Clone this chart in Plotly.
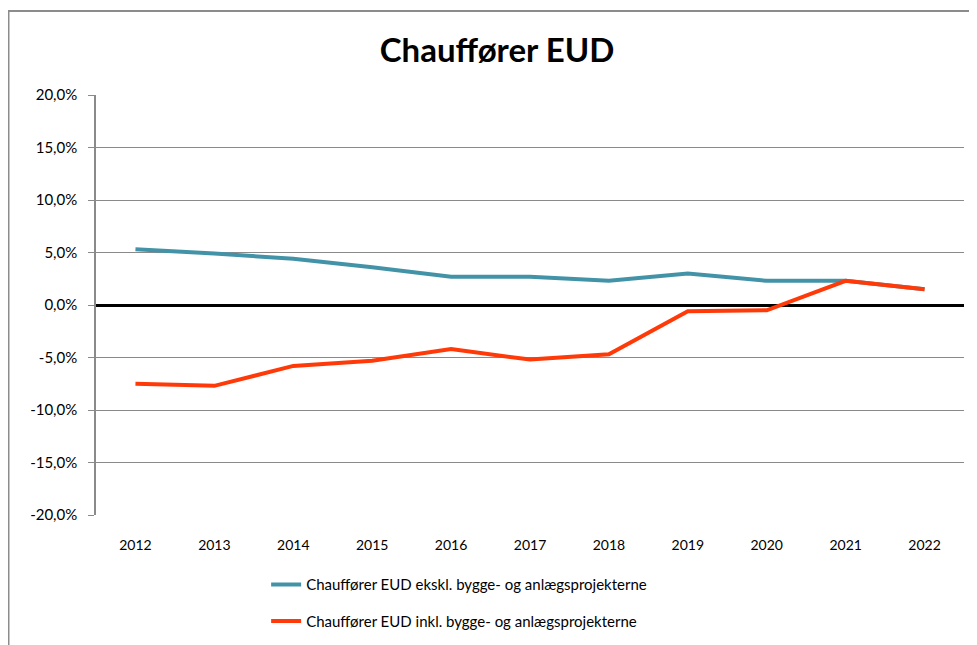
import plotly.graph_objects as go

years = ["2012", "2013", "2014", "2015", "2016", "2017", "2018", "2019", "2020", "2021", "2022"]
eksl = [5.3, 4.9, 4.4, 3.6, 2.7, 2.7, 2.3, 3.0, 2.3, 2.3, 1.5]
inkl = [-7.5, -7.7, -5.8, -5.3, -4.2, -5.2, -4.7, -0.6, -0.5, 2.3, 1.5]
name_eksl = "Chauffører EUD ekskl. bygge- og anlægsprojekterne"
name_inkl = "Chauffører EUD inkl. bygge- og anlægsprojekterne"
title = "Chauffører EUD"
y_ticks = [-20, -15, -10, -5, 0, 5, 10, 15, 20]
y_ticktext = ["-20,0%", "-15,0%", "-10,0%", "-5,0%", "0,0%", "5,0%", "10,0%", "15,0%", "20,0%"]

FONT = "Lato, 'Open Sans', sans-serif"

# page body has an 8px default margin; figure sized to fit the 977x645 window
W, H = 969, 637
L, T, PW, PH = 88, 87, 868, 420

fig = go.Figure()
fig.add_trace(go.Scatter(x=years, y=eksl, mode="lines", name=name_eksl,
                         line=dict(color="#4393A8", width=4), legendgroup="a"))
fig.add_trace(go.Scatter(x=years, y=inkl, mode="lines", name=name_inkl,
                         line=dict(color="#FF3A08", width=4), legendgroup="b"))

fig.update_layout(
    width=W, height=H,
    margin=dict(l=L, r=W - L - PW, t=T, b=H - T - PH, autoexpand=False),
    paper_bgcolor="white", plot_bgcolor="white",
    font=dict(family=FONT, size=14, color="#000000"),
    title=dict(text="<b>" + title + "</b>", x=489 / W, xanchor="center", y=1 - 42 / H, yanchor="middle",
               font=dict(family=FONT, size=33, color="#000000")),
    showlegend=True,
    legend=dict(x=0.196, y=-0.127, xanchor="left", yanchor="top", orientation="v",
                traceorder="grouped", tracegroupgap=14,
                font=dict(family=FONT, size=15, color="#000000"),
                bgcolor="rgba(0,0,0,0)"),
    xaxis=dict(type="category", range=[-0.5, 10.5], showgrid=False, zeroline=False, showline=False,
               ticks="", tickfont=dict(size=14), ticklabelstandoff=20, automargin=False),
    yaxis=dict(range=[-20, 20], tickvals=y_ticks, ticktext=y_ticktext,
               showgrid=True, gridcolor="#8a8a8a", gridwidth=1,
               zeroline=True, zerolinecolor="#000000", zerolinewidth=3,
               showline=True, linecolor="#8a8a8a", linewidth=1.5,
               ticks="outside", ticklen=6, tickcolor="#8a8a8a",
               ticklabelstandoff=8, tickfont=dict(size=15), automargin=False),
    shapes=[dict(type="rect", xref="paper", yref="paper",
                 x0=(0.5 - L) / PW, x1=1.05, y0=-0.33, y1=(PH + T - 3) / PH,
                 line=dict(color="#8c8c8c", width=2), layer="below")],
)

fig.write_html("out.html")
